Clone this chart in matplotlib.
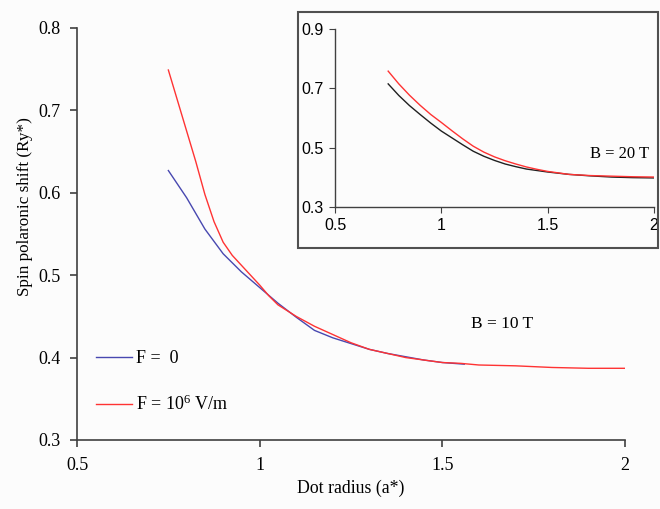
import numpy as np
import matplotlib.pyplot as plt
from matplotlib.patches import Rectangle

# main panel, B = 10 T
r_blue = [0.75, 0.80, 0.85, 0.90, 0.95, 1.00, 1.05, 1.10, 1.15, 1.20, 1.25, 1.30, 1.35, 1.40, 1.45, 1.50, 1.56]
f0_10T = [0.627, 0.594, 0.556, 0.526, 0.504, 0.485, 0.466, 0.449, 0.433, 0.424, 0.417, 0.410, 0.405, 0.401, 0.397, 0.394, 0.392]
r_red = [0.75, 0.775, 0.80, 0.825, 0.85, 0.875, 0.90, 0.925, 0.95, 0.975, 1.00, 1.025, 1.05, 1.10, 1.15, 1.20, 1.25, 1.30,
         1.35, 1.40, 1.45, 1.50, 1.55, 1.60, 1.70, 1.80, 1.90, 2.00]
f6_10T = [0.749, 0.712, 0.675, 0.638, 0.598, 0.565, 0.540, 0.524, 0.512, 0.500, 0.488, 0.475, 0.464, 0.450, 0.438, 0.428,
          0.418, 0.410, 0.405, 0.400, 0.397, 0.394, 0.393, 0.391, 0.390, 0.388, 0.387, 0.387]

# inset, B = 20 T
r_in = [0.75, 0.80, 0.85, 0.90, 0.95, 1.00, 1.05, 1.10, 1.15, 1.20, 1.25, 1.30, 1.35, 1.40, 1.45, 1.50, 1.60, 1.70, 1.80, 1.90, 2.00]
f0_20T = [0.715, 0.676, 0.642, 0.612, 0.583, 0.556, 0.533, 0.510, 0.488, 0.471, 0.457, 0.445, 0.436, 0.428, 0.423, 0.418, 0.410, 0.405, 0.401, 0.399, 0.398]
f6_20T = [0.758, 0.715, 0.677, 0.643, 0.612, 0.585, 0.557, 0.530, 0.505, 0.485, 0.469, 0.456, 0.445, 0.435, 0.427, 0.420, 0.410, 0.406, 0.404, 0.402, 0.401]

main_xticks = [0.5, 1, 1.5, 2]
main_yticks = [0.3, 0.4, 0.5, 0.6, 0.7, 0.8]
in_yticks = [0.3, 0.5, 0.7, 0.9]

serif = 'Liberation Serif'
sans = 'Liberation Sans'
spine_c = '#404040'
blue = '#4848b0'
red = '#ff3333'

plt.rcParams['mathtext.fontset'] = 'custom'
plt.rcParams['mathtext.rm'] = serif
plt.rcParams['mathtext.it'] = serif

fig = plt.figure(figsize=(6.6, 5.09), dpi=100)
fig.patch.set_facecolor('#fcfcfc')

ax = fig.add_axes([0.1167, 0.1356, 0.8303, 0.8094])
ax.set_facecolor('#fcfcfc')
ax.plot(r_blue, f0_10T, color=blue, lw=1.0, label='F =  0')
ax.plot(r_red, f6_10T, color=red, lw=1.0, label='F = 10$^{6}$ V/m')
ax.set_xlim(0.5, 2)
ax.set_ylim(0.3, 0.8)
ax.set_xticks(main_xticks)
ax.set_xticklabels(['0.5', '1', '1.5', '2'])
ax.set_yticks(main_yticks)
ax.set_yticklabels(['%.1f' % v for v in main_yticks])
for s in ['top', 'right']:
    ax.spines[s].set_visible(False)
for s in ['left', 'bottom']:
    ax.spines[s].set_color(spine_c)
    ax.spines[s].set_linewidth(1.2)
ax.tick_params(direction='out', length=5, color=spine_c, width=1.2, labelsize=13, pad=7)
for lab in ax.get_xticklabels() + ax.get_yticklabels():
    lab.set_family(serif)
ax.set_xlabel('Dot radius (a*)', family=serif, fontsize=12.8, labelpad=4)
ax.set_ylabel('Spin polaronic shift (Ry*)', family=serif, fontsize=12.3)
ax.yaxis.set_label_coords(-0.080, 0.566)
ax.text(1.664, 0.441, 'B = 10 T', family=serif, fontsize=12.5, ha='center', va='center')
leg = ax.legend(loc='upper left', bbox_to_anchor=(0.022, 0.235), frameon=False,
                prop={'family': serif, 'size': 13}, handlelength=2.0,
                handletextpad=0.2, labelspacing=1.5, borderaxespad=0)

# inset frame
fig.patches.append(Rectangle((0.4515, 0.5128), 0.546, 0.4634, transform=fig.transFigure,
                             fill=False, edgecolor='#505050', lw=1.5))

axi = fig.add_axes([0.5076, 0.5933, 0.4833, 0.3497])
axi.set_facecolor('#fcfcfc')
axi.plot(r_in, f0_20T, color='#202020', lw=1.0)
axi.plot(r_in, f6_20T, color=red, lw=1.0)
axi.set_xlim(0.5, 2)
axi.set_ylim(0.3, 0.9)
axi.set_xticks(main_xticks)
axi.set_xticklabels(['0.5', '1', '1.5', '2'])
axi.set_yticks(in_yticks)
axi.set_yticklabels(['%.1f' % v for v in in_yticks])
for s in ['top', 'right']:
    axi.spines[s].set_visible(False)
for s in ['left', 'bottom']:
    axi.spines[s].set_color(spine_c)
    axi.spines[s].set_linewidth(1.0)
axi.tick_params(direction='out', length=4, color=spine_c, labelsize=11.5, pad=4)
for lab in axi.get_xticklabels() + axi.get_yticklabels():
    lab.set_family(sans)
axi.text(1.84, 0.479, 'B = 20 T', family=serif, fontsize=12, ha='center', va='center')

fig.savefig('out.png', dpi=100, facecolor=fig.get_facecolor())
